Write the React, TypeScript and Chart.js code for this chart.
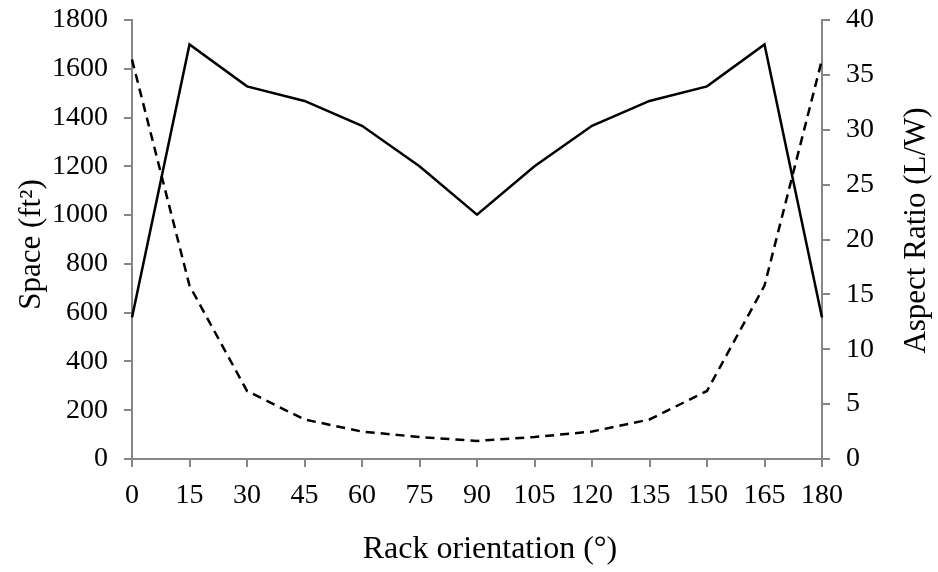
import React, { useEffect, useRef } from "react";
import { Chart, registerables } from "chart.js";

Chart.register(...registerables);

const angles = [0, 15, 30, 45, 60, 75, 90, 105, 120, 135, 150, 165, 180];
const spaceValues = [580, 1700, 1528, 1468, 1366, 1200, 1002, 1200, 1366, 1468, 1528, 1700, 580];
const aspectRatio = [36.4, 15.8, 6.2, 3.6, 2.5, 2.0, 1.65, 2.0, 2.5, 3.6, 6.2, 15.8, 36.4];

const xTitle = "Rack orientation (°)";
const yLeftTitle = "Space (ft²)";
const yRightTitle = "Aspect Ratio (L/W)";

const FONT = "'Liberation Serif', 'Times New Roman', serif";
const AXIS = "#868686";

export default function App() {
  const ref = useRef<HTMLCanvasElement | null>(null);

  useEffect(() => {
    if (!ref.current) return;
    const titlesPlugin = {
      id: "extraTitles",
      afterDraw(chart: any) {
        const { ctx, chartArea } = chart;
        const midY = (chartArea.top + chartArea.bottom) / 2;
        ctx.save();
        ctx.fillStyle = "#000";
        ctx.textAlign = "center";
        ctx.textBaseline = "middle";
        ctx.font = `31px ${FONT}`;
        // right title, reading bottom to top
        ctx.save();
        ctx.translate(917, midY - 9);
        ctx.rotate(-Math.PI / 2);
        ctx.fillText(yRightTitle, 0, 0);
        ctx.restore();
        // left title
        ctx.save();
        ctx.translate(32, midY + 5);
        ctx.rotate(-Math.PI / 2);
        ctx.fillText(yLeftTitle, 0, 0);
        ctx.restore();
        // x title
        ctx.font = `32px ${FONT}`;
        ctx.fillText(xTitle, (chartArea.left + chartArea.right) / 2 + 13, 550);
        ctx.restore();
      },
    };

    const plain = (v: any) => String(v);
    const fitY = (w: number) => (scale: any) => {
      scale.width = w;
      scale.paddingTop = 0;
      scale.paddingBottom = 0;
    };

    const chart = new Chart(ref.current, {
      type: "line",
      data: {
        datasets: [
          {
            label: "Space",
            data: angles.map((a, i) => ({ x: a, y: spaceValues[i] })),
            borderColor: "#000",
            borderWidth: 2.5,
            pointRadius: 0,
            tension: 0,
            yAxisID: "y",
            clip: false as any,
          },
          {
            label: "Aspect Ratio",
            data: angles.map((a, i) => ({ x: a, y: aspectRatio[i] })),
            borderColor: "#000",
            borderWidth: 2.5,
            borderDash: [9, 6],
            pointRadius: 0,
            tension: 0,
            yAxisID: "y1",
            clip: false as any,
          },
        ],
      },
      options: {
        responsive: false,
        animation: false,
        layout: { padding: { top: 20, left: 0, right: 0, bottom: 0 } },
        plugins: { legend: { display: false }, tooltip: { enabled: false } },
        scales: {
          x: {
            type: "linear",
            min: 0,
            max: 180,
            afterFit(scale: any) {
              scale.height = 113;
              scale.paddingLeft = 0;
              scale.paddingRight = 0;
            },
            ticks: {
              stepSize: 15,
              color: "#000",
              font: { family: FONT, size: 28 },
              padding: 12,
              maxRotation: 0,
              callback: plain,
            },
            grid: {
              drawOnChartArea: false,
              drawTicks: true,
              tickLength: 8,
              color: AXIS,
              lineWidth: 2,
            },
            border: { display: true, color: AXIS, width: 2 },
          },
          y: {
            type: "linear",
            position: "left",
            min: 0,
            max: 1800,
            afterFit: fitY(132),
            ticks: {
              stepSize: 200,
              color: "#000",
              font: { family: FONT, size: 28 },
              padding: 16,
              callback: plain,
            },
            grid: {
              drawOnChartArea: false,
              drawTicks: true,
              tickLength: 8,
              color: AXIS,
              lineWidth: 2,
            },
            border: { display: true, color: AXIS, width: 2 },
          },
          y1: {
            type: "linear",
            position: "right",
            min: 0,
            max: 40,
            afterFit: fitY(116),
            ticks: {
              stepSize: 5,
              color: "#000",
              font: { family: FONT, size: 28 },
              padding: 16,
              callback: plain,
            },
            grid: {
              drawOnChartArea: false,
              drawTicks: true,
              tickLength: 8,
              color: AXIS,
              lineWidth: 2,
            },
            border: { display: true, color: AXIS, width: 2 },
          },
        },
      },
      plugins: [titlesPlugin],
    });
    return () => chart.destroy();
  }, []);

  return (
    <div style={{ position: "absolute", left: 0, top: 0, width: 938, height: 572, background: "#fff" }}>
      <canvas ref={ref} width={938} height={572} style={{ display: "block" }} />
    </div>
  );
}
